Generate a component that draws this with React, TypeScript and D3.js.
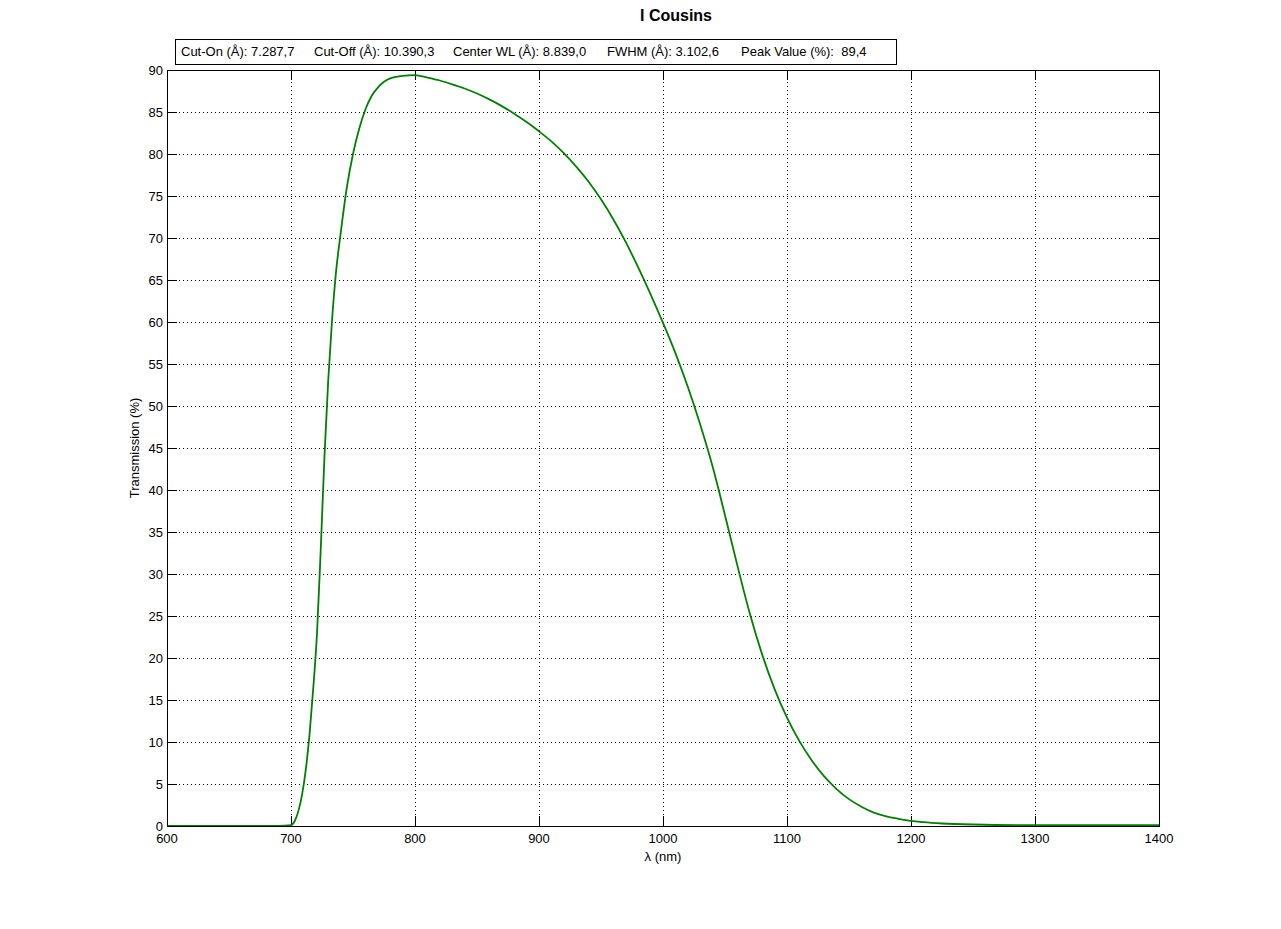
import React from "react";
import * as d3 from "d3";

const wavelengths = [600, 650, 690, 700, 703, 706, 709, 712, 715, 718, 721, 724, 727, 730, 733, 736, 740, 745, 750, 755, 760, 765, 770, 775, 780, 790, 800, 810, 820, 830, 840, 850, 860, 870, 880, 890, 900, 910, 920, 930, 940, 950, 960, 970, 980, 990, 1000, 1010, 1020, 1030, 1040, 1050, 1060, 1070, 1080, 1090, 1100, 1110, 1120, 1130, 1140, 1150, 1160, 1170, 1180, 1190, 1200, 1210, 1225, 1250, 1300, 1350, 1400];
const transmission = [0, 0, 0, 0.1, 0.6, 1.8, 3.8, 6.8, 11, 16.5, 23, 33, 44, 53, 60, 65.5, 70.5, 76, 80, 83, 85.3, 86.9, 87.9, 88.6, 89.0, 89.3, 89.4, 89.1, 88.75, 88.3, 87.8, 87.2, 86.5, 85.7, 84.8, 83.8, 82.7, 81.5, 80.1, 78.5, 76.7, 74.6, 72.2, 69.5, 66.5, 63.3, 59.9, 56.3, 52.3, 47.8, 42.8, 37.0, 31.0, 25.3, 20.4, 16.3, 12.9, 10.1, 7.8, 5.9, 4.4, 3.2, 2.3, 1.6, 1.15, 0.85, 0.6, 0.45, 0.3, 0.18, 0.1, 0.1, 0.1];

const xTicks = [600, 700, 800, 900, 1000, 1100, 1200, 1300, 1400];
const yTicks = [0, 5, 10, 15, 20, 25, 30, 35, 40, 45, 50, 55, 60, 65, 70, 75, 80, 85, 90];

const titleText = "I Cousins";
const infoItems = [
  { label: "Cut-On (Å): 7.287,7", x: 181 },
  { label: "Cut-Off (Å): 10.390,3", x: 314 },
  { label: "Center WL (Å): 8.839,0", x: 453 },
  { label: "FWHM (Å): 3.102,6", x: 607 },
  { label: "Peak Value (%):  89,4", x: 741 },
];

const W = 1281, H = 929;
const L = 167, R = 1159, T = 70, B = 826;
const font = "'Liberation Sans', Arial, sans-serif";

export default function App() {
  const x = d3.scaleLinear().domain([600, 1400]).range([L, R]);
  const y = d3.scaleLinear().domain([0, 90]).range([B, T]);
  const data = wavelengths.map((w, i) => [w, transmission[i]] as [number, number]);
  const line = d3.line<[number, number]>().x(d => x(d[0])).y(d => y(d[1])).curve(d3.curveMonotoneX);
  const tl = 10;
  return (
    <svg width={W} height={H} style={{ position: "absolute", left: 0, top: 0, background: "#fff" }}>
      <rect x={0} y={0} width={W} height={H} fill="#fff" />
      {xTicks.slice(1, -1).map(t => (
        <line key={"gx" + t} x1={x(t) + 0.5} x2={x(t) + 0.5} y1={T} y2={B} stroke="#000" strokeWidth={1} strokeDasharray="1,3" />
      ))}
      {yTicks.slice(1, -1).map(t => (
        <line key={"gy" + t} x1={L} x2={R} y1={Math.round(y(t)) + 0.5} y2={Math.round(y(t)) + 0.5} stroke="#000" strokeWidth={1} strokeDasharray="1,3" />
      ))}
      {xTicks.map(t => (
        <g key={"tx" + t}>
          <line x1={x(t) + 0.5} x2={x(t) + 0.5} y1={B} y2={B - tl} stroke="#000" />
          <line x1={x(t) + 0.5} x2={x(t) + 0.5} y1={T} y2={T + tl} stroke="#000" />
          <text x={x(t)} y={843} textAnchor="middle" fontFamily={font} fontSize={13}>{t}</text>
        </g>
      ))}
      {yTicks.map(t => (
        <g key={"ty" + t}>
          <line x1={L} x2={L + tl} y1={Math.round(y(t)) + 0.5} y2={Math.round(y(t)) + 0.5} stroke="#000" />
          <line x1={R} x2={R - tl} y1={Math.round(y(t)) + 0.5} y2={Math.round(y(t)) + 0.5} stroke="#000" />
          <text x={163} y={y(t) + 4.5} textAnchor="end" fontFamily={font} fontSize={13}>{t}</text>
        </g>
      ))}
      <path d={line(data) || ""} fill="none" stroke="#008000" strokeWidth={1.8} />
      <rect x={L + 0.5} y={T + 0.5} width={R - L} height={B - T} fill="none" stroke="#000" strokeWidth={1} />
      <text x={663} y={861} textAnchor="middle" fontFamily={font} fontSize={13}>λ (nm)</text>
      <text transform={`translate(139, ${(T + B) / 2}) rotate(-90)`} textAnchor="middle" fontFamily={font} fontSize={13}>Transmission (%)</text>
      <text x={676} y={21} textAnchor="middle" fontFamily={font} fontSize={16} fontWeight="bold">{titleText}</text>
      <rect x={175.5} y={39.5} width={721} height={25} fill="#fff" stroke="#000" strokeWidth={1} />
      {infoItems.map(it => (
        <text key={it.label} x={it.x} y={56} fontFamily={font} fontSize={13} style={{ whiteSpace: "pre" }}>{it.label}</text>
      ))}
    </svg>
  );
}
